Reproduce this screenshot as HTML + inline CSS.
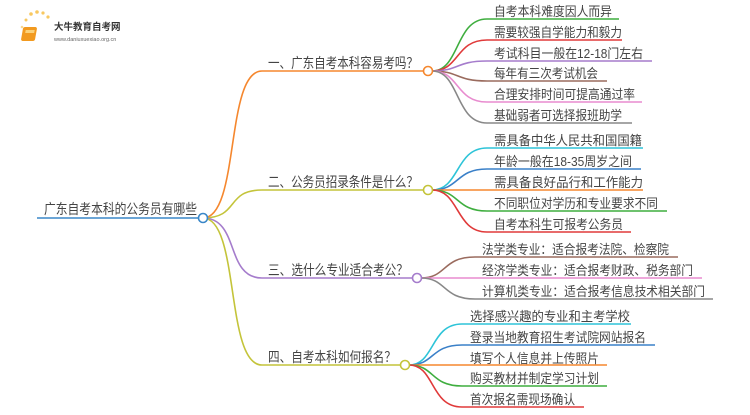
<!DOCTYPE html>
<html><head><meta charset="utf-8"><style>
html,body{margin:0;padding:0;background:#fff;}
svg text{font-family:"Liberation Sans","Noto Sans CJK SC",sans-serif;fill:#444;}
</style></head><body>
<svg width="750" height="410" viewBox="0 0 750 410" xmlns="http://www.w3.org/2000/svg">
<g>
 <circle cx="26" cy="20" r="1.5" fill="#f8c860"/><circle cx="31" cy="14" r="1.8" fill="#f8c860"/>
 <circle cx="37" cy="12" r="1.8" fill="#f8c860"/><circle cx="43" cy="13" r="1.6" fill="#f8c860"/>
 <circle cx="48" cy="17" r="1.6" fill="#f8c860"/><circle cx="22" cy="27" r="1.3" fill="#f8d890"/>
 <rect x="28" y="27" width="14" height="14" rx="2" fill="#f29a1f" transform="skewX(-10)"/>
 <rect x="31" y="30" width="9" height="3" fill="#fbd27a" transform="skewX(-10)"/>
 <text x="54" y="30" font-size="9.5" font-weight="bold" style="fill:#333">大牛教育自考网</text>
 <text x="54" y="41" font-size="5.5" style="fill:#666">www.daniuxuexiao.org.cn</text>
</g>
<g fill="none" stroke-width="1.6">
 <line x1="37" y1="218" x2="199" y2="218" stroke="#3a87c8"/>
 <path d="M203 218 C240 218 225 71 262 71 L424 71" stroke="#f5872e"/>
 <path d="M203 218 C240 218 225 190 262 190 L424 190" stroke="#c4c43a"/>
 <path d="M203 218 C240 218 225 278 262 278 L413 278" stroke="#a57ccc"/>
 <path d="M203 218 C240 218 225 365 262 365 L401 365" stroke="#c4c43a"/>
 <path d="M432 71 C460 71 455 19 487 19 L619 19" stroke="#3fae3f"/>
 <path d="M432 71 C460 71 455 40 487 40 L622 40" stroke="#e03a3a"/>
 <path d="M432 71 C460 71 455 61 487 61 L652 61" stroke="#a57ccc"/>
 <path d="M432 71 C460 71 455 81 487 81 L607 81" stroke="#9a6b5e"/>
 <path d="M432 71 C460 71 455 102 487 102 L642 102" stroke="#e88ccf"/>
 <path d="M432 71 C460 71 455 123 487 123 L632 123" stroke="#888"/>
 <path d="M432 190 C460 190 455 148 487 148 L643 148" stroke="#2ec4d8"/>
 <path d="M432 190 C460 190 455 169 487 169 L641 169" stroke="#3a80c8"/>
 <path d="M432 190 L643 190" stroke="#f5872e"/>
 <path d="M432 190 C460 190 455 211 487 211 L667 211" stroke="#3fae3f"/>
 <path d="M432 190 C460 190 455 232 487 232 L631 232" stroke="#e03a3a"/>
 <path d="M421 278 C447 278 442 257 475 257 L678 257" stroke="#9a6b5e"/>
 <path d="M421 278 L702 278" stroke="#e88ccf"/>
 <path d="M421 278 C447 278 442 299 475 299 L713 299" stroke="#888"/>
 <path d="M409 365 C435 365 430 324 462 324 L631 324" stroke="#2ec4d8"/>
 <path d="M409 365 C435 365 430 345 462 345 L655 345" stroke="#3a80c8"/>
 <path d="M409 365 L607 365" stroke="#f5872e"/>
 <path d="M409 365 C435 365 430 386 462 386 L607 386" stroke="#3fae3f"/>
 <path d="M409 365 C435 365 430 407 462 407 L584 407" stroke="#e03a3a"/>
</g>
<g fill="#fff" stroke-width="1.6">
 <circle cx="203" cy="218" r="4.5" stroke="#3a87c8"/>
 <circle cx="428" cy="71" r="4.5" stroke="#f5872e"/>
 <circle cx="428" cy="190" r="4.5" stroke="#c4c43a"/>
 <circle cx="417" cy="278" r="4.5" stroke="#a57ccc"/>
 <circle cx="405" cy="365" r="4.5" stroke="#c4c43a"/>
</g>
<g font-size="14" lengthAdjust="spacingAndGlyphs">
 <text x="44" y="214" textLength="153" lengthAdjust="spacingAndGlyphs">广东自考本科的公务员有哪些</text>
 <text x="268" y="68" textLength="150" lengthAdjust="spacingAndGlyphs">一、广东自考本科容易考吗？</text>
 <text x="268" y="187" textLength="150" lengthAdjust="spacingAndGlyphs">二、公务员招录条件是什么？</text>
 <text x="268" y="275" textLength="140" lengthAdjust="spacingAndGlyphs">三、选什么专业适合考公？</text>
 <text x="268" y="362" textLength="128" lengthAdjust="spacingAndGlyphs">四、自考本科如何报名？</text>
</g>
<g font-size="13">
 <text x="494" y="16" textLength="118" lengthAdjust="spacingAndGlyphs">自考本科难度因人而异</text>
 <text x="494" y="37" textLength="128" lengthAdjust="spacingAndGlyphs">需要较强自学能力和毅力</text>
 <text x="494" y="58" textLength="149" lengthAdjust="spacingAndGlyphs">考试科目一般在12-18门左右</text>
 <text x="494" y="78" textLength="104" lengthAdjust="spacingAndGlyphs">每年有三次考试机会</text>
 <text x="494" y="99" textLength="141" lengthAdjust="spacingAndGlyphs">合理安排时间可提高通过率</text>
 <text x="494" y="120" textLength="128" lengthAdjust="spacingAndGlyphs">基础弱者可选择报班助学</text>
 <text x="494" y="145" textLength="148" lengthAdjust="spacingAndGlyphs">需具备中华人民共和国国籍</text>
 <text x="494" y="166" textLength="138" lengthAdjust="spacingAndGlyphs">年龄一般在18-35周岁之间</text>
 <text x="494" y="187" textLength="149" lengthAdjust="spacingAndGlyphs">需具备良好品行和工作能力</text>
 <text x="494" y="208" textLength="164" lengthAdjust="spacingAndGlyphs">不同职位对学历和专业要求不同</text>
 <text x="494" y="229" textLength="129" lengthAdjust="spacingAndGlyphs">自考本科生可报考公务员</text>
 <text x="482" y="254" textLength="187" lengthAdjust="spacingAndGlyphs">法学类专业：适合报考法院、检察院</text>
 <text x="482" y="275" textLength="211" lengthAdjust="spacingAndGlyphs">经济学类专业：适合报考财政、税务部门</text>
 <text x="482" y="296" textLength="223" lengthAdjust="spacingAndGlyphs">计算机类专业：适合报考信息技术相关部门</text>
 <text x="470" y="321" textLength="160" lengthAdjust="spacingAndGlyphs">选择感兴趣的专业和主考学校</text>
 <text x="470" y="342" textLength="176" lengthAdjust="spacingAndGlyphs">登录当地教育招生考试院网站报名</text>
 <text x="470" y="363" textLength="129" lengthAdjust="spacingAndGlyphs">填写个人信息并上传照片</text>
 <text x="470" y="383" textLength="129" lengthAdjust="spacingAndGlyphs">购买教材并制定学习计划</text>
 <text x="470" y="404" textLength="105" lengthAdjust="spacingAndGlyphs">首次报名需现场确认</text>
</g>
</svg>
</body></html>
